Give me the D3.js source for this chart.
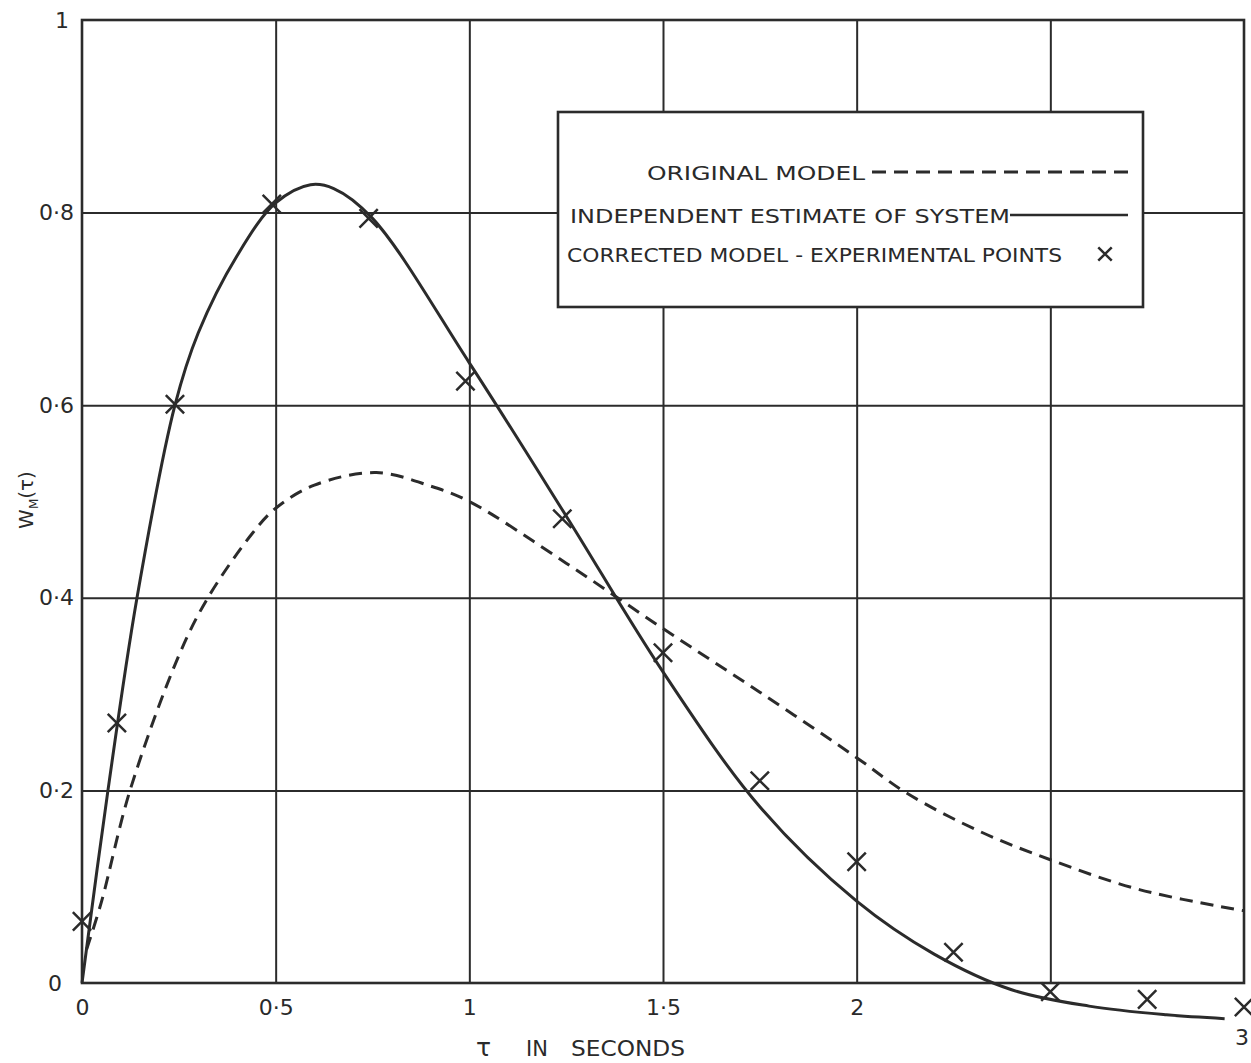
<!DOCTYPE html>
<html lang="en">
<head>
  <meta charset="UTF-8">
  <title>W_M(tau) impulse response</title>
  <script src="https://d3js.org/d3.v7.min.js"></script>
  <style>
    body { margin: 0; background: #fff; }
    text { font-family: "DejaVu Sans", sans-serif; fill: #2a2a2a; }
  </style>
</head>
<body>
<svg width="1251" height="1063"></svg>
<script>
  // values
  var xTicks = [0, 0.5, 1, 1.5, 2];
  var xTickLabels = ["0", "0·5", "1", "1·5", "2"];
  var yTicks = [0, 0.2, 0.4, 0.6, 0.8, 1];
  var yTickLabels = ["0", "0·2", "0·4", "0·6", "0·8", "1"];

  // independent estimate of system (solid)
  var solidT = [0, 0.067, 0.142, 0.24, 0.3, 0.4, 0.5, 0.59, 0.65, 0.75, 1.0, 1.25, 1.5, 1.75, 2.0, 2.2, 2.4, 2.6, 2.8, 2.95];
  var solidW = [0, 0.2, 0.4, 0.6, 0.675, 0.755, 0.81, 0.829, 0.825, 0.794, 0.644, 0.485, 0.323, 0.183, 0.085, 0.03, -0.007, -0.024, -0.033, -0.037];

  // original model (dashed)
  var dashT = [0.012, 0.05, 0.124, 0.25, 0.325, 0.44, 0.5, 0.6, 0.76, 0.9, 1.0, 1.25, 1.5, 1.75, 2.0, 2.13, 2.32, 2.5, 2.73, 3.0];
  var dashW = [0.035, 0.084, 0.2, 0.34, 0.4, 0.467, 0.493, 0.517, 0.53, 0.516, 0.5, 0.436, 0.368, 0.302, 0.234, 0.197, 0.157, 0.128, 0.097, 0.075];

  // corrected model - experimental points
  var pointT = [0, 0.09, 0.24, 0.49, 0.74, 0.99, 1.24, 1.5, 1.75, 2.0, 2.25, 2.5, 2.75, 3.0];
  var pointW = [0.064, 0.27, 0.601, 0.809, 0.794, 0.625, 0.482, 0.343, 0.21, 0.126, 0.032, -0.009, -0.017, -0.025];

  var svg = d3.select("svg");
  var ink = "#2b2b2b";

  var x = d3.scaleLinear().domain([0, 3]).range([82, 1244]);
  var y = d3.scaleLinear().domain([0, 1]).range([983, 20]);

  // grid lines
  svg.append("g")
    .attr("transform", "translate(0," + y(0) + ")")
    .call(d3.axisBottom(x).tickValues(d3.range(0.5, 3, 0.5)).tickSize(-(y(0) - y(1))).tickFormat(""))
    .call(function(g) { g.select(".domain").remove(); })
    .selectAll("line").attr("stroke", ink).attr("stroke-width", 2);

  svg.append("g")
    .attr("transform", "translate(" + x(0) + ",0)")
    .call(d3.axisLeft(y).tickValues([0.2, 0.4, 0.6, 0.8]).tickSize(-(x(3) - x(0))).tickFormat(""))
    .call(function(g) { g.select(".domain").remove(); })
    .selectAll("line").attr("stroke", ink).attr("stroke-width", 2);

  // frame
  svg.append("rect")
    .attr("x", x(0)).attr("y", y(1))
    .attr("width", x(3) - x(0)).attr("height", y(0) - y(1))
    .attr("fill", "none").attr("stroke", ink).attr("stroke-width", 2.6);

  // tick labels
  var xAx = svg.append("g")
    .attr("transform", "translate(0," + y(0) + ")")
    .call(d3.axisBottom(x).tickValues(xTicks).tickSize(0).tickPadding(16)
      .tickFormat(function(d, i) { return xTickLabels[i]; }));
  xAx.select(".domain").remove();
  xAx.selectAll("text").attr("font-size", 22).attr("fill", ink).style("font-family", "DejaVu Sans");

  svg.append("text")
    .attr("x", x(3) - 2).attr("y", y(0) + 62)
    .attr("text-anchor", "middle").attr("font-size", 22)
    .text("3");

  var yAx = svg.append("g")
    .attr("transform", "translate(" + x(0) + ",0)")
    .call(d3.axisLeft(y).tickValues(yTicks).tickSize(0).tickPadding(8)
      .tickFormat(function(d, i) { return yTickLabels[i]; }));
  yAx.select(".domain").remove();
  yAx.selectAll("text").attr("font-size", 22).attr("fill", ink).style("font-family", "DejaVu Sans");
  yAx.selectAll(".tick").filter(function(d) { return d === 0; }).select("text").attr("dx", -12);
  yAx.selectAll(".tick").filter(function(d) { return d === 1; }).select("text").attr("dx", -5);

  // axis titles
  var xt = svg.append("text").attr("y", 1056).attr("font-size", 21);
  xt.append("tspan").attr("x", 476).attr("font-size", 25).text("τ");
  xt.append("tspan").attr("x", 526).text("IN");
  xt.append("tspan").attr("x", 571).attr("textLength", 114).attr("lengthAdjust", "spacingAndGlyphs").text("SECONDS");

  var yt = svg.append("text")
    .attr("transform", "translate(33,500) rotate(-90)")
    .attr("text-anchor", "middle").attr("font-size", 20);
  yt.append("tspan").text("W");
  yt.append("tspan").attr("font-size", 12).attr("dy", 5).text("M");
  yt.append("tspan").attr("dy", -5).text("(τ)");

  // curves
  var line = d3.line()
    .x(function(d) { return x(d[0]); })
    .y(function(d) { return y(d[1]); })
    .curve(d3.curveCatmullRom.alpha(0.5));

  svg.append("path")
    .datum(d3.zip(dashT, dashW))
    .attr("d", line)
    .attr("fill", "none").attr("stroke", ink).attr("stroke-width", 3)
    .attr("stroke-dasharray", "13 8");

  svg.append("path")
    .datum(d3.zip(solidT, solidW))
    .attr("d", line)
    .attr("fill", "none").attr("stroke", ink).attr("stroke-width", 3);

  // markers
  var cross = d3.symbol().type(d3.symbolX).size(220);
  svg.append("g").selectAll("path")
    .data(d3.zip(pointT, pointW))
    .join("path")
    .attr("d", cross)
    .attr("transform", function(d) { return "translate(" + x(d[0]) + "," + y(d[1]) + ")"; })
    .attr("fill", "none").attr("stroke", ink).attr("stroke-width", 2.5);

  // legend
  var lg = svg.append("g");
  lg.append("rect")
    .attr("x", 558).attr("y", 112).attr("width", 585).attr("height", 195)
    .attr("fill", "#fff").attr("stroke", ink).attr("stroke-width", 2.6);

  lg.append("text").attr("x", 647).attr("y", 180).attr("font-size", 20)
    .attr("textLength", 218).attr("lengthAdjust", "spacingAndGlyphs")
    .text("ORIGINAL  MODEL");
  lg.append("line").attr("x1", 872).attr("x2", 1128).attr("y1", 172).attr("y2", 172)
    .attr("stroke", ink).attr("stroke-width", 3).attr("stroke-dasharray", "14 8");

  lg.append("text").attr("x", 570).attr("y", 223).attr("font-size", 20)
    .attr("textLength", 440).attr("lengthAdjust", "spacingAndGlyphs")
    .text("INDEPENDENT ESTIMATE OF SYSTEM");
  lg.append("line").attr("x1", 1010).attr("x2", 1128).attr("y1", 215).attr("y2", 215)
    .attr("stroke", ink).attr("stroke-width", 2.5);

  lg.append("text").attr("x", 567).attr("y", 262).attr("font-size", 19)
    .attr("textLength", 495).attr("lengthAdjust", "spacingAndGlyphs")
    .text("CORRECTED MODEL - EXPERIMENTAL  POINTS");
  lg.append("path")
    .attr("d", d3.symbol().type(d3.symbolX).size(120))
    .attr("transform", "translate(1105,254)")
    .attr("fill", "none").attr("stroke", ink).attr("stroke-width", 2.5);
</script>
</body>
</html>
